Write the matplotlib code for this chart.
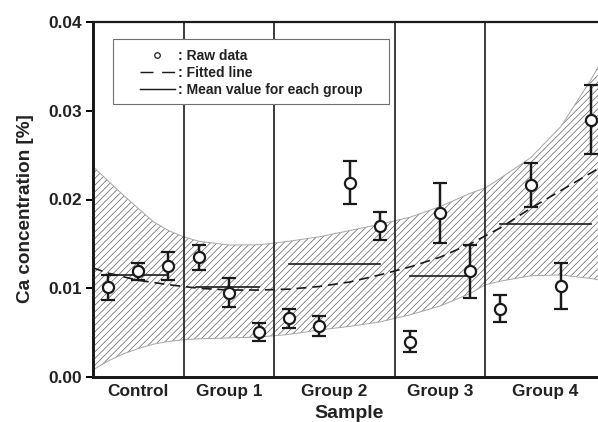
import matplotlib
matplotlib.use("Agg")
import matplotlib.pyplot as plt
from matplotlib.lines import Line2D
from matplotlib.patches import Rectangle

plt.rcParams['font.family'] = ['Liberation Sans', 'DejaVu Sans']

# ---------------- data ----------------
group_names = ["Control", "Group 1", "Group 2", "Group 3", "Group 4"]
group_sizes = [3, 3, 4, 3, 4]

raw_values = [0.0101, 0.0119, 0.0125,
              0.0135, 0.0095, 0.0051,
              0.0066, 0.00575, 0.0219, 0.0170,
              0.0040, 0.0185, 0.0119,
              0.0077, 0.0216, 0.0103, 0.0290]
raw_errors = [0.00137, 0.00098, 0.0016,
              0.0014, 0.0016, 0.0010,
              0.0011, 0.0011, 0.0024, 0.00155,
              0.0012, 0.0034, 0.0030,
              0.0015, 0.0025, 0.0026, 0.0039]

group_means = [0.0115, 0.0101, 0.0127, 0.0114, 0.0172]

fit_x = [-0.5, 0, 1, 2, 3, 4, 5, 6, 7, 8, 9, 10, 11, 12, 13, 14, 15, 16, 16.5]
fit_y = [0.0123, 0.0117, 0.0109, 0.0104, 0.0100, 0.0098, 0.0098, 0.0099, 0.0102,
         0.0107, 0.0115, 0.0124, 0.0135, 0.0150, 0.0168, 0.0190, 0.0210, 0.0230, 0.0240]

band_x = [-0.5, 0, 0.5, 1, 1.5, 2, 2.5, 3, 4, 5, 6, 7, 8, 9, 10, 11, 12, 12.5,
          13, 14, 15, 16, 16.5]
band_upper = [0.0237, 0.0221, 0.0205, 0.0190, 0.0175, 0.0165, 0.0158, 0.0153, 0.01487,
              0.0149, 0.0153, 0.0158, 0.0165, 0.0172, 0.0180, 0.0192, 0.0207, 0.0213,
              0.0224, 0.0247, 0.0282, 0.0335, 0.0365]
band_lower = [0.0008, 0.0018, 0.0026, 0.0032, 0.0037, 0.0040, 0.0042, 0.0043, 0.0044,
              0.0045, 0.0048, 0.0053, 0.0057, 0.0062, 0.0070, 0.0080, 0.0094, 0.0104,
              0.0108, 0.0114, 0.0115, 0.0111, 0.0108]

legend_labels = [": Raw data", ": Fitted line", ": Mean value for each group"]

# ---------------- figure ----------------
W, H, DPI = 598, 422, 80
plt.rcParams['hatch.linewidth'] = 0.6
fig = plt.figure(figsize=(W / DPI, H / DPI), dpi=DPI)
ax = fig.add_axes([93 / W, 1 - 377 / H, (606 - 93) / W, (377 - 22) / H])

x_idx = list(range(len(raw_values)))
starts = [sum(group_sizes[:i]) for i in range(len(group_sizes))]

# confidence band
ax.fill_between(band_x, band_lower, band_upper, facecolor='none',
                edgecolor='#5c5c5c', hatch='////', linewidth=0, zorder=1)
ax.plot(band_x, band_upper, color='#a8a8a8', lw=0.9, zorder=2)
ax.plot(band_x, band_lower, color='#a8a8a8', lw=0.9, zorder=2)

# group separators
for s in starts[1:]:
    ax.axvline(s - 0.5, color='#1a1a1a', lw=1.5, zorder=3)

# fitted line
ax.plot(fit_x, fit_y, color='#1a1a1a', lw=1.5, dashes=(6, 3.5), zorder=4)

# mean lines
for s, n, m in zip(starts, group_sizes, group_means):
    ax.plot([s - 0.1 if s < 6 else s, s + n - 1], [m, m], color='#1a1a1a', lw=1.5, zorder=4)

# raw data
ax.errorbar(x_idx, raw_values, yerr=raw_errors, fmt='o', ms=10, mfc='white',
            mec='#1a1a1a', mew=2.0, ecolor='#1a1a1a', elinewidth=2.2,
            capsize=6, capthick=2.2, zorder=6)

ax.set_xlim(-0.5, 16.5)
ax.set_ylim(0, 0.04)
ax.set_yticks([0.00, 0.01, 0.02, 0.03, 0.04])
ax.set_yticklabels(["0.00", "0.01", "0.02", "0.03", "0.04"])
centers = [s + (n - 1) / 2 for s, n in zip(starts, group_sizes)]
ax.set_xticks(centers)
ax.set_xticklabels(group_names)

for lab in ax.get_xticklabels() + ax.get_yticklabels():
    lab.set_fontweight('bold')
    lab.set_color('#222222')
ax.tick_params(axis='y', direction='out', length=6, width=1.8, pad=4, labelsize=15.5)
ax.tick_params(axis='x', length=0, pad=6, labelsize=15.5)

ax.spines['left'].set_linewidth(2.7)
ax.spines['bottom'].set_linewidth(2.7)
ax.spines['top'].set_linewidth(2.0)
ax.spines['right'].set_visible(False)
for sp in ax.spines.values():
    sp.set_color('#1a1a1a')

ax.set_xlabel("Sample", fontsize=17.5, fontweight='bold', color='#222222', va='center')
ax.xaxis.set_label_coords(0.5, (377 - 413) / 355)
ax.set_ylabel("Ca concentration [%]", fontsize=17, fontweight='bold', color='#222222', va='center')
ax.yaxis.set_label_coords((26 - 93) / 513, (377 - 209) / 355)

# legend
handles = [Line2D([], [], marker='o', ls='none', mfc='white', mec='#1a1a1a', ms=5, mew=1.1),
           Line2D([], [], color='#1a1a1a', lw=1.3, dashes=(9, 6)),
           Line2D([], [], color='#1a1a1a', lw=1.3)]
leg = fig.legend(handles, legend_labels, loc='upper left', frameon=False,
                 bbox_to_anchor=(140 / W, 1 - 48.5 / H), borderpad=0, borderaxespad=0,
                 handlelength=2.5, handletextpad=0.2, labelspacing=0.22,
                 prop={'size': 12.5, 'weight': 'bold'})
for t in leg.get_texts():
    t.set_color('#222222')
fig.patches.append(Rectangle((113 / W, 1 - 104 / H), (389 - 113) / W, (104 - 39) / H,
                             transform=fig.transFigure, facecolor='white',
                             edgecolor='#707070', lw=1.0, zorder=5))
leg.set_zorder(10)

fig.savefig("out.png", dpi=DPI)
